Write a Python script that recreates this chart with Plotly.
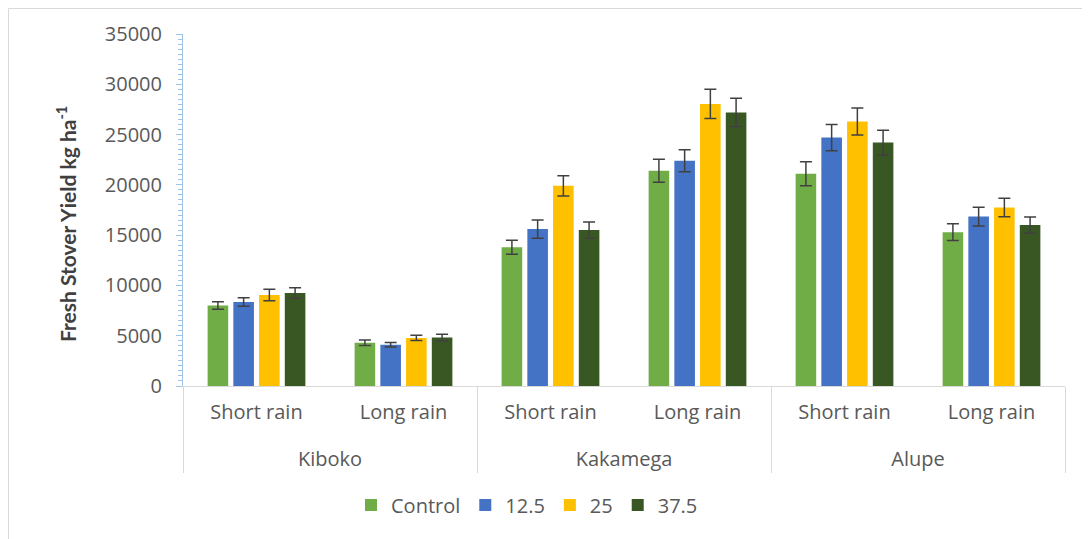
import plotly.graph_objects as go

sites = ["Kiboko", "Kiboko", "Kakamega", "Kakamega", "Alupe", "Alupe"]
seasons = ["Short rain", "Long rain", "Short rain", "Long rain", "Short rain", "Long rain"]

series_names = ["Control", "12.5", "25", "37.5"]
control = [8000, 4300, 13800, 21400, 21100, 15300]
control_err = [370, 270, 700, 1150, 1200, 830]
r125 = [8350, 4100, 15600, 22400, 24700, 16850]
r125_err = [430, 230, 900, 1100, 1300, 930]
r25 = [9050, 4780, 19900, 28050, 26300, 17750]
r25_err = [570, 260, 1000, 1450, 1350, 930]
r375 = [9250, 4820, 15500, 27200, 24200, 16000]
r375_err = [530, 330, 800, 1400, 1230, 800]

colors = ["#70AD47", "#4472C4", "#FFC000", "#385723"]
values = [control, r125, r25, r375]
errors = [control_err, r125_err, r25_err, r375_err]

# group labels pushed down one line to mimic the Excel two-row axis
site_labels = ["<br>" + s for s in sites]

FONT = "Open Sans"
fig = go.Figure()
for name, vals, errs, col in zip(series_names, values, errors, colors):
    fig.add_trace(go.Bar(
        x=[site_labels, seasons], y=vals, name=name,
        marker=dict(color=col, line=dict(width=0)),
        error_y=dict(type="data", array=errs, visible=True,
                     color="#404040", thickness=1.5, width=6),
    ))

OFF = 8  # page body margin
W, H = 1090 - OFF, 539 - OFF
L, T = 183 - OFF, 34 - OFF
R = W - (1065 - OFF)
B = H - (386 - OFF)
pw, ph = W - L - R, H - T - B

def px(xs):
    return (xs - OFF - L) / pw

def py(ys):
    return (H - B - (ys - OFF)) / ph

fig.update_layout(
    width=W, height=H,
    margin=dict(l=L, r=R, t=T, b=B, autoexpand=False),
    paper_bgcolor="white", plot_bgcolor="white",
    barmode="group", bargap=0.3, bargroupgap=0.2,
    font=dict(family=FONT, size=20, color="#595959"),
    showlegend=True,
    legend=dict(orientation="h", x=px(527), xanchor="center",
                y=py(505), yanchor="middle", itemwidth=30,
                font=dict(family=FONT, size=20, color="#595959"),
                traceorder="normal"),
    xaxis=dict(
        type="multicategory", showline=True, linecolor="#D9D9D9", linewidth=1,
        showgrid=False, ticks="", showdividers=True, dividercolor="#D9D9D9",
        dividerwidth=1, ticklabelstandoff=8,
        tickfont=dict(family=FONT, size=20, color="#595959"),
    ),
    yaxis=dict(
        range=[0, 35000], dtick=5000, tickformat="d", showgrid=False, zeroline=False,
        showline=True, linecolor="#9DC3E6", linewidth=1,
        ticks="outside", ticklen=6, tickcolor="#9DC3E6", ticklabelstandoff=10,
        minor=dict(dtick=500, ticks="outside", ticklen=4, tickcolor="#9DC3E6"),
        tickfont=dict(family=FONT, size=20, color="#595959"),
    ),
    annotations=[dict(
        text="<b>Fresh Stover Yield kg ha<sup>-1</sup></b>", textangle=-90,
        xref="paper", yref="paper", x=px(66), y=py(224),
        xanchor="center", yanchor="middle", showarrow=False,
        font=dict(family="Lato", size=21, color="#404040"),
    )],
    shapes=[
        dict(type="line", xref="paper", yref="paper",
             x0=px(OFF + 0.5), x1=px(OFF + 0.5), y0=py(539), y1=py(OFF + 0.5),
             line=dict(color="#D9D9D9", width=1)),
        dict(type="line", xref="paper", yref="paper",
             x0=px(OFF + 0.5), x1=px(1090), y0=py(OFF + 0.5), y1=py(OFF + 0.5),
             line=dict(color="#D9D9D9", width=1)),
    ],
)

fig.write_html("out.html")
